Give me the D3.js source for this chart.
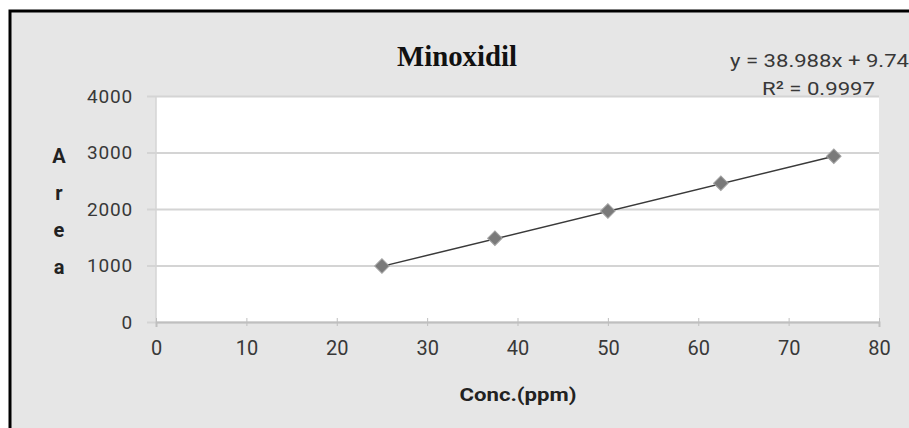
<!DOCTYPE html>
<html>
<head>
<meta charset="utf-8">
<script src="https://cdn.jsdelivr.net/npm/d3@7"></script>
<style>
  body { margin: 0; background: #fff; }
  svg { display: block; }
</style>
</head>
<body>
<svg width="909" height="428"></svg>
<script>
// Data
const conc = [25, 37.5, 50, 62.5, 75];
const area = [990, 1482, 1965, 2455, 2935];
const xTicks = [0, 10, 20, 30, 40, 50, 60, 70, 80];
const yTicks = [0, 1000, 2000, 3000, 4000];
const slope = 38.988, intercept = 9.74;
const titleText = "Minoxidil";
const eqText = "y = 38.988x + 9.74";
const r2Text = "R\u00B2 = 0.9997";

const svg = d3.select("svg"),
    width = +svg.attr("width"),
    height = +svg.attr("height");

// chart background + frame (right/bottom edges fall outside the picture)
svg.append("rect")
    .attr("x", 10).attr("y", 11)
    .attr("width", width + 10).attr("height", height + 10)
    .attr("fill", "#e6e6e6")
    .attr("stroke", "#000").attr("stroke-width", 3);

const x = d3.scaleLinear().domain([0, 80]).range([156, 879]);
const y = d3.scaleLinear().domain([0, 4000]).range([322, 96]);

// plot area
svg.append("rect")
    .attr("x", x(0)).attr("y", y(4000))
    .attr("width", x(80) - x(0)).attr("height", y(0) - y(4000))
    .attr("fill", "#fff");

// gridlines + y ticks
const yAxis = d3.axisLeft(y).tickValues(yTicks).tickSize(x(80) - x(0) + 9).tickPadding(6).tickFormat(d3.format("d"));
svg.append("g")
    .attr("transform", `translate(${x(80)},0)`)
    .call(yAxis)
    .call(g => g.select(".domain").remove())
    .call(g => g.selectAll(".tick line").attr("stroke", "#d4d4d4").attr("stroke-width", 2))
    .call(g => g.selectAll(".tick text")
        .attr("x", -(x(80) - 133)).attr("dx", 0)
        .attr("fill", "#383838")
        .style("font-family", "Roboto, sans-serif").style("font-size", "19px")
        .style("letter-spacing", "0.8px"));

// y axis line
svg.append("line")
    .attr("x1", x(0)).attr("x2", x(0))
    .attr("y1", y(4000)).attr("y2", y(0))
    .attr("stroke", "#d4d4d4").attr("stroke-width", 1.5);

// x axis
const xAxis = d3.axisBottom(x).tickValues(xTicks).tickSize(5).tickPadding(14);
svg.append("g")
    .attr("transform", `translate(0,${y(0)})`)
    .call(xAxis)
    .call(g => g.select(".domain").attr("stroke", "#bfbfbf").attr("stroke-width", 2))
    .call(g => g.selectAll(".tick line").attr("stroke", "#bfbfbf").attr("y1", -4).attr("y2", 4))
    .call(g => g.selectAll(".tick text")
        .attr("fill", "#383838")
        .style("font-family", "Roboto, sans-serif").style("font-size", "20px"));

// trendline
svg.append("line")
    .attr("x1", x(conc[0])).attr("y1", y(slope * conc[0] + intercept))
    .attr("x2", x(conc[conc.length - 1])).attr("y2", y(slope * conc[conc.length - 1] + intercept))
    .attr("stroke", "#3a3a3a").attr("stroke-width", 1.5);

// markers
svg.append("g")
    .selectAll("path")
    .data(conc)
    .join("path")
    .attr("d", d3.symbol().type(d3.symbolSquare).size(105))
    .attr("transform", (d, i) => `translate(${x(d)},${y(area[i])}) rotate(45)`)
    .attr("fill", "#7a7a7a")
    .attr("stroke", "#a0a0a0").attr("stroke-width", 1);

// title
svg.append("text")
    .attr("x", 457).attr("y", 66)
    .attr("text-anchor", "middle")
    .attr("textLength", 120).attr("lengthAdjust", "spacingAndGlyphs")
    .style("font-family", "'Liberation Serif', serif").style("font-weight", "bold").style("font-size", "30px")
    .attr("fill", "#111")
    .text(titleText);

// trendline equation
svg.append("text")
    .attr("x", 730).attr("y", 67)
    .attr("textLength", 179).attr("lengthAdjust", "spacingAndGlyphs")
    .style("font-family", "Roboto, sans-serif").style("font-size", "19px")
    .attr("fill", "#383838")
    .text(eqText);
svg.append("text")
    .attr("x", 762).attr("y", 95)
    .attr("textLength", 113).attr("lengthAdjust", "spacingAndGlyphs")
    .style("font-family", "Roboto, sans-serif").style("font-size", "19px")
    .attr("fill", "#383838")
    .text(r2Text);

// axis titles
svg.append("text")
    .attr("x", 518).attr("y", 401)
    .attr("text-anchor", "middle")
    .attr("textLength", 117).attr("lengthAdjust", "spacingAndGlyphs")
    .style("font-family", "Roboto, sans-serif").style("font-weight", "bold").style("font-size", "19px")
    .attr("fill", "#222")
    .text("Conc.(ppm)");

const yLetters = ["A", "r", "e", "a"];
svg.append("g")
    .selectAll("text")
    .data(yLetters)
    .join("text")
    .attr("x", 59)
    .attr("y", (d, i) => 163 + i * 37)
    .attr("text-anchor", "middle")
    .style("font-family", "Roboto, sans-serif").style("font-weight", "bold").style("font-size", "20px")
    .attr("fill", "#222")
    .text(d => d);
</script>
</body>
</html>
